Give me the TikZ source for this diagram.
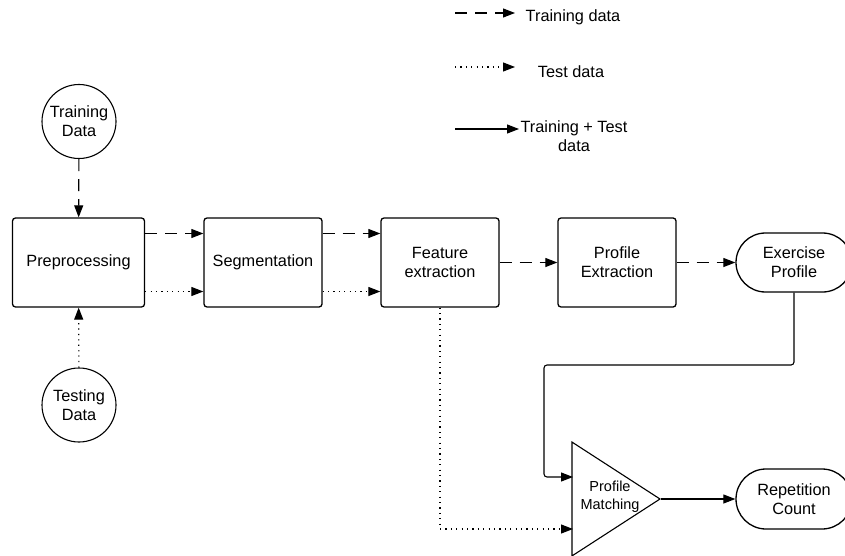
\documentclass[tikz,border=0pt]{standalone}
\usepackage{fontspec}
\setmainfont{Liberation Sans}
\usetikzlibrary{arrows.meta,shapes.misc,shapes.geometric}
\begin{document}
\begin{tikzpicture}[x=1pt,y=-1pt,
  every node/.style={font=\fontsize{16.3}{19}\selectfont, align=center, inner sep=0pt},
  proc/.style={draw, line width=1.3pt, rounded corners=3pt, minimum width=118pt, minimum height=89pt},
  term/.style={draw, line width=1.3pt, rounded rectangle, minimum width=116pt, minimum height=59pt},
  src/.style={draw, line width=1.1pt, circle, minimum size=74pt},
  arr/.style={line width=1.1pt, -{Triangle[length=12pt,width=9pt]}},
  trn/.style={arr, dash pattern=on 12pt off 8pt},
  tst/.style={arr, dash pattern=on 1.2pt off 4.2pt},
  both/.style={arr}]
\useasboundingbox (0,0) rectangle (845,556);

% legend
\coordinate (l1a) at (455,13); \coordinate (l1b) at (515,13);
\coordinate (l2a) at (455,67); \coordinate (l2b) at (515,67);
\coordinate (l3a) at (455,129); \coordinate (l3b) at (519,129);
\draw[trn] (l1a) -- (l1b);
\draw[tst] (l2a) -- (l2b);
\draw[both] (l3a) -- (l3b);
\node (lt1) at (573,17) {Training data};
\node (lt2) at (571,72) {Test data};
\node (lt3) at (574,136) {Training + Test\\data};

% sources
\node[src] (train) at (79,121.5) {Training\\Data};
\node[src] (test) at (79,405) {Testing\\Data};

% process boxes
\node[proc, minimum width=132pt] (pre) at (78.5,262.5) {Preprocessing};
\node[proc] (seg) at (263,262.5) {Segmentation};
\node[proc] (feat) at (440,262.5) {Feature\\extraction};
\node[proc] (prof) at (617,262.5) {Profile\\Extraction};
\node[term] (ex) at (794,262.5) {Exercise\\Profile};
\node[term, minimum height=60pt] (rep) at (794,499) {Repetition\\Count};

% triangle
\node[draw, line width=1.1pt, isosceles triangle, isosceles triangle apex angle=65.8,
      minimum height=88pt, anchor=apex] (pm) at (661,499) {};
\node[font=\fontsize{14.5}{18}\selectfont] (pmt) at (610,497) {Profile\\Matching};

% connectors
\draw[trn] (train) -- (pre);
\draw[tst] (test) -- (pre);
\draw[trn] ([yshift=29pt]pre.east) -- ([yshift=29pt]seg.west);
\draw[tst] ([yshift=-29pt]pre.east) -- ([yshift=-29pt]seg.west);
\draw[trn] ([yshift=29pt]seg.east) -- ([yshift=29pt]feat.west);
\draw[tst] ([yshift=-29pt]seg.east) -- ([yshift=-29pt]feat.west);
\draw[trn] (feat) -- (prof);
\draw[trn] (prof) -- (ex);
\coordinate (in1) at (573,477);
\coordinate (in2) at (573,529);
\draw[both, rounded corners=3pt] (ex.south) |- (544,365) |- (in1);
\draw[tst] (feat.south) |- (in2);
\draw[both] (pm.apex) -- (rep.west);
\end{tikzpicture}
\end{document}
